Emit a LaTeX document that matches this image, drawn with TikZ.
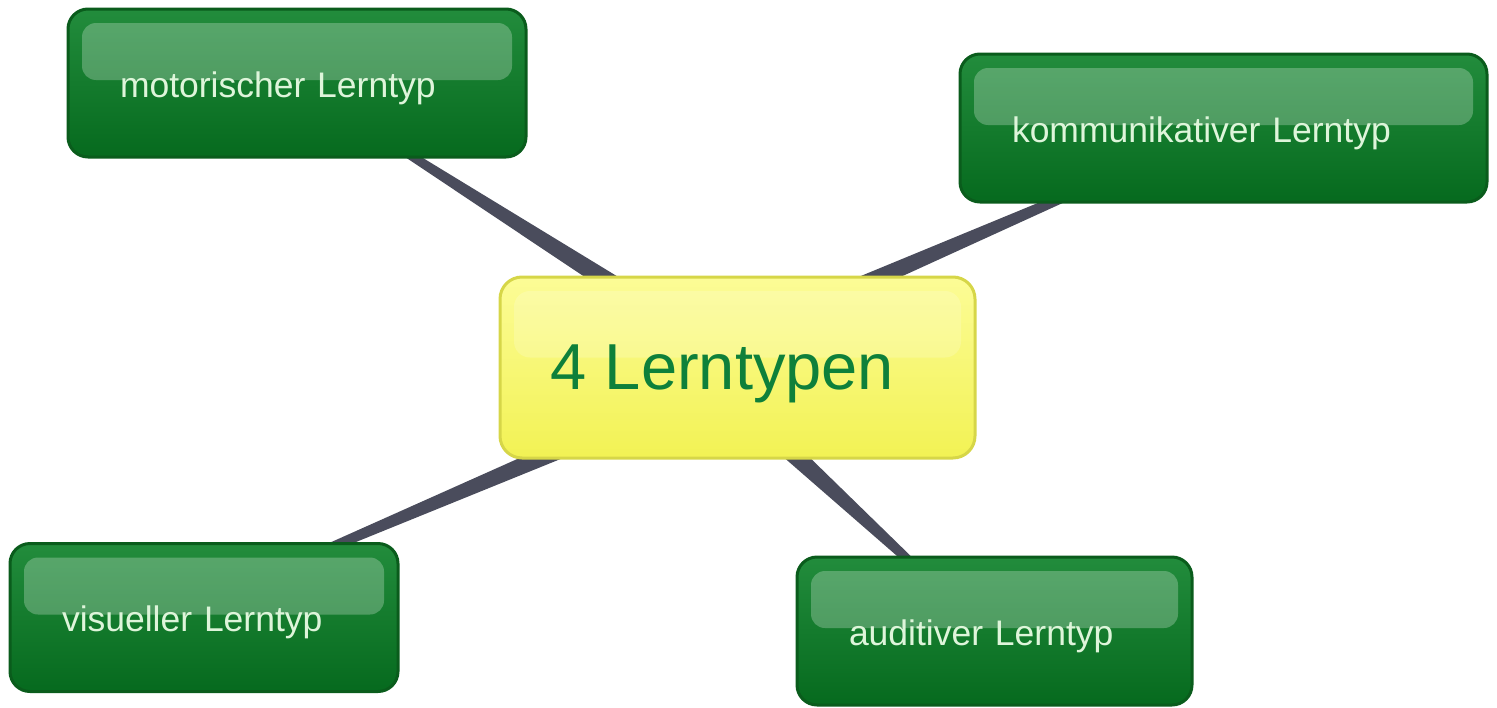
\documentclass[tikz,border=0pt]{standalone}
\usepackage{fontspec}
\setmainfont{Liberation Sans}
\usetikzlibrary{calc}
\pgfdeclarelayer{bg}
\pgfsetlayers{bg,main}
\definecolor{gtop}{RGB}{34,140,60}
\definecolor{gbot}{RGB}{6,106,30}
\definecolor{gborder}{RGB}{10,92,28}
\definecolor{gtext}{RGB}{222,245,218}
\definecolor{ytop}{RGB}{252,252,150}
\definecolor{ybot}{RGB}{242,242,84}
\definecolor{yborder}{RGB}{214,214,72}
\definecolor{ytext}{RGB}{14,128,58}
\definecolor{conncol}{RGB}{74,76,92}
\tikzset{
  leaf/.style={rounded corners=20pt, draw=gborder, line width=3pt,
    top color=gtop, bottom color=gbot, minimum height=148pt,
    inner xsep=52pt, inner ysep=0pt, align=left, text=gtext,
    font=\fontsize{35.5}{40}\selectfont,
    path picture={\fill[white,opacity=0.25,rounded corners=14pt]
      ($(path picture bounding box.north west)+(14pt,-14pt)$) rectangle
      ($(path picture bounding box.east)+(-14pt,3pt)$);}},
  hubbox/.style={rounded corners=22pt, draw=yborder, line width=3pt,
    top color=ytop, bottom color=ybot, minimum width=475pt,
    minimum height=181pt, text=ytext, font=\fontsize{65}{75}\selectfont,
    path picture={\fill[white,opacity=0.18,rounded corners=16pt]
      ($(path picture bounding box.north west)+(14pt,-14pt)$) rectangle
      ($(path picture bounding box.east)+(-14pt,10pt)$);}},
  conn/.style={fill=conncol}
}
\newcommand\taper[2]{%
  \fill[conn] ($(#1)!1.5pt!90:(#2)$) -- ($(#2)!12.5pt!-90:(#1)$)
    -- ($(#2)!12.5pt!90:(#1)$) -- ($(#1)!1.5pt!-90:(#2)$) -- cycle;}
\newcommand\lowered[2]{\raisebox{-#1}[\height][\depth]{#2}}
\begin{document}
\begin{tikzpicture}[x=1pt,y=-1pt]
\useasboundingbox (0,0) rectangle (1497,707);
\node[hubbox] (c) at (737.5,367.5) {\hspace*{-30pt}\lowered{6pt}{4 Lerntypen}};
\node[leaf, text width=354pt] (tl) at (297,83) {\lowered{5pt}{motorischer Lerntyp}};
\node[leaf, text width=423pt] (tr) at (1223.5,128) {\lowered{5pt}{kommunikativer Lerntyp}};
\node[leaf, text width=284pt] (bl) at (204,617.5) {\lowered{5pt}{visueller Lerntyp}};
\node[leaf, text width=291pt] (br) at (994.5,631) {\lowered{5pt}{auditiver Lerntyp}};
\coordinate (tlA) at ($(tl.center)+(0,0)$);
\coordinate (tlB) at (742,367);
\coordinate (trA) at ($(tr.center)+(0,0)$);
\coordinate (trB) at (673,367);
\coordinate (blA) at ($(bl.center)+(-38,0)$);
\coordinate (blB) at (754,367);
\coordinate (brA) at ($(br.center)+(-9,0)$);
\coordinate (brB) at (699,367);
\begin{pgfonlayer}{bg}
\taper{tlA}{tlB}
\taper{trA}{trB}
\taper{blA}{blB}
\taper{brA}{brB}
\end{pgfonlayer}
\end{tikzpicture}
\end{document}
